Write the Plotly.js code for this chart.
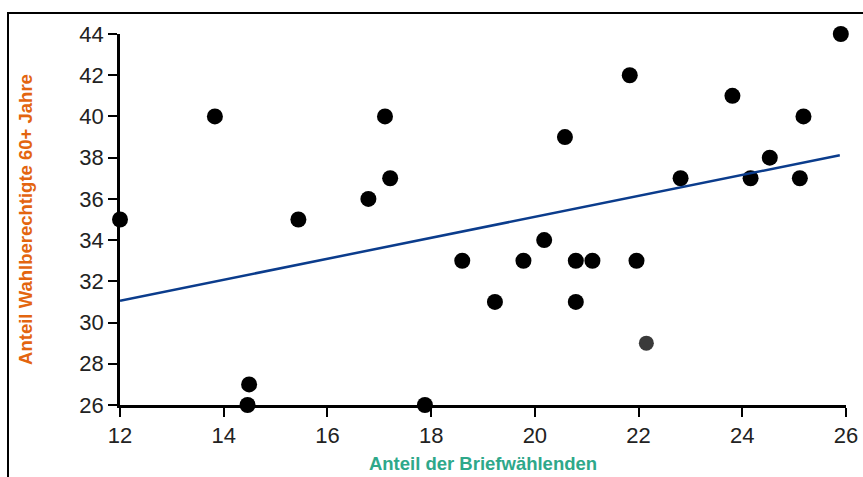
<!DOCTYPE html>
<html>
<head>
<meta charset="utf-8">
<script src="https://cdn.plot.ly/plotly-3.0.1.min.js"></script>
<style>
  html, body { margin: 0; padding: 0; background: #fff; }
  #wrap { position: relative; width: 863px; height: 477px; overflow: hidden; }
  #chart { position: absolute; left: 0; top: 0; width: 863px; height: 477px; }
  #frame { position: absolute; left: 7px; top: 12px; width: 900px; height: 500px;
           border-left: 2px solid #000; border-top: 2px solid #000; pointer-events: none; }
</style>
</head>
<body>
<div id="wrap">
  <div id="chart"></div>
  <div id="frame"></div>
</div>
<script>
// Anteil der Briefwählenden (x) and Anteil Wahlberechtigte 60+ Jahre (y)
const briefwahl = [12, 13.83, 14.46, 14.49, 15.44, 16.79, 17.11, 17.21, 17.88, 18.6, 19.23, 19.78, 20.18, 20.58, 20.79, 20.79, 21.11, 21.83, 21.96, 22.81, 23.81, 24.16, 24.53, 25.11, 25.18, 25.9];
const aelter60 = [35, 40, 26, 27, 35, 36, 40, 37, 26, 33, 31, 33, 34, 39, 33, 31, 33, 42, 33, 37, 41, 37, 38, 37, 40, 44];
// highlighted point (grey)
const highlightX = [22.15];
const highlightY = [29];
// regression line end points
const trendX = [12, 25.88];
const trendY = [31.06, 38.12];
// axis ticks
const xTicks = [12, 14, 16, 18, 20, 22, 24, 26];
const yTicks = [26, 28, 30, 32, 34, 36, 38, 40, 42, 44];

const traces = [
  { x: briefwahl, y: aelter60, type: 'scatter', mode: 'markers', cliponaxis: false,
    marker: { color: '#000', size: 16, line: { width: 0 } }, hoverinfo: 'x+y' },
  { x: highlightX, y: highlightY, type: 'scatter', mode: 'markers', cliponaxis: false,
    marker: { color: '#3a3a3a', size: 15, line: { width: 0 } }, hoverinfo: 'x+y' },
  { x: trendX, y: trendY, type: 'scatter', mode: 'lines', cliponaxis: false,
    line: { color: '#0b3c8c', width: 2.5 }, hoverinfo: 'skip' }
];

const tickFont = { family: 'Liberation Sans, Arial, sans-serif', size: 22, color: '#222' };

const layout = {
  width: 863, height: 477,
  margin: { l: 120, r: 17, t: 34, b: 72, pad: 0 },
  paper_bgcolor: '#fff', plot_bgcolor: '#fff',
  showlegend: false,
  xaxis: {
    range: [12, 26], tickvals: xTicks, ticktext: xTicks.map(String),
    showgrid: false, zeroline: false,
    showline: true, linecolor: '#000', linewidth: 2.5,
    ticks: 'outside', ticklen: 9, tickwidth: 2, tickcolor: '#000',
    tickfont: tickFont,
    title: { text: 'Anteil der Briefwählenden', standoff: 10,
             font: { family: 'Liberation Sans, Arial, sans-serif', size: 18.5, color: '#2ea88a', weight: 'bold' } }
  },
  yaxis: {
    range: [26, 44], tickvals: yTicks, ticktext: yTicks.map(String),
    showgrid: false, zeroline: false,
    showline: true, linecolor: '#000', linewidth: 2.5,
    ticks: 'outside', ticklen: 9, tickwidth: 2, tickcolor: '#000',
    tickfont: tickFont,
    title: { text: 'Anteil Wahlberechtigte 60+ Jahre', standoff: 42,
             font: { family: 'Liberation Sans, Arial, sans-serif', size: 18.5, color: '#e3650f', weight: 'bold' } }
  }
};

Plotly.newPlot('chart', traces, layout, { displayModeBar: false, staticPlot: false });
</script>
</body>
</html>
